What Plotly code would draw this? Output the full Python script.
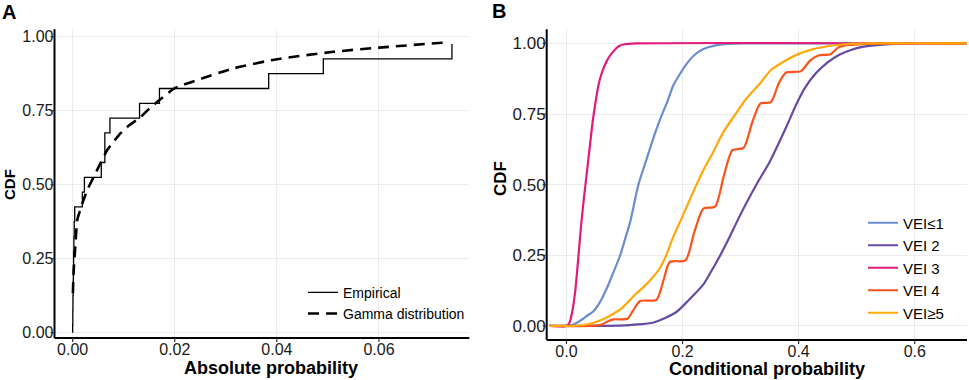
import plotly.graph_objects as go

W, H = 969, 380
FONT = "Liberation Sans, Arial, sans-serif"

# ---------------- Panel A data ----------------
emp_x = [0.0, 0.0, 0.00003, 0.00006, 0.0001, 0.00014, 0.00018, 0.00024, 0.0003, 0.0004,
         0.0019, 0.0023, 0.0056, 0.0063, 0.0063, 0.0073, 0.0131, 0.0170, 0.0384, 0.0491, 0.0743]
emp_y = [0.0, 0.025, 0.075, 0.125, 0.175, 0.225, 0.275, 0.325, 0.375, 0.425,
         0.475, 0.525, 0.575, 0.625, 0.675, 0.725, 0.775, 0.825, 0.875, 0.925, 0.975]

gam_x = [0.00004, 0.0002, 0.00043, 0.0009, 0.0014, 0.0019, 0.00286, 0.0035, 0.00448, 0.0055,
         0.00677, 0.008, 0.0094, 0.011, 0.013, 0.015, 0.017, 0.02, 0.025, 0.0315, 0.04, 0.0511,
         0.06, 0.0735]
gam_y = [0.133, 0.21, 0.268, 0.381, 0.41, 0.437, 0.482, 0.505, 0.5385, 0.575,
         0.617, 0.645, 0.674, 0.70, 0.724, 0.757, 0.786, 0.826, 0.857, 0.893, 0.924, 0.949,
         0.963, 0.981]

# ---------------- Panel B data ----------------
vei1_x = [-0.03, 0.0, 0.012, 0.025, 0.035, 0.047, 0.058, 0.07, 0.08, 0.0926, 0.10, 0.11, 0.124,
          0.134, 0.144, 0.154, 0.164, 0.175, 0.184, 0.195, 0.208, 0.22, 0.236, 0.255, 0.277, 0.31, 0.69]
vei1_y = [0.0, 0.0, 0.005, 0.02, 0.035, 0.053, 0.085, 0.135, 0.185, 0.25, 0.30, 0.37, 0.50,
          0.565, 0.628, 0.69, 0.745, 0.80, 0.851, 0.89, 0.93, 0.958, 0.98, 0.992, 0.998, 1.0, 1.0]

vei2_x = [-0.03, 0.05, 0.10, 0.13, 0.15, 0.17, 0.19, 0.21, 0.236, 0.25, 0.265, 0.28, 0.294, 0.31,
          0.33, 0.35, 0.363, 0.38, 0.395, 0.41, 0.43, 0.45, 0.47, 0.49, 0.51, 0.54, 0.575, 0.62, 0.69]
vei2_y = [0.0, 0.0, 0.002, 0.006, 0.012, 0.028, 0.05, 0.09, 0.147, 0.195, 0.25, 0.31, 0.37, 0.435,
          0.51, 0.58, 0.635, 0.71, 0.78, 0.84, 0.895, 0.933, 0.96, 0.977, 0.988, 0.995, 0.999, 1.0, 1.0]

vei3_x = [-0.03, 0.0, 0.005, 0.01, 0.015, 0.02, 0.025, 0.03, 0.035, 0.04, 0.045, 0.05, 0.055,
          0.06, 0.07, 0.08, 0.09, 0.10, 0.12, 0.69]
vei3_y = [0.0, 0.0, 0.01, 0.05, 0.12, 0.23, 0.35, 0.45, 0.54, 0.63, 0.72, 0.79, 0.85,
          0.89, 0.94, 0.97, 0.99, 0.997, 1.0, 1.0]

vei4_x = [-0.03, 0.04, 0.06, 0.07, 0.081, 0.105, 0.115, 0.127, 0.155, 0.167, 0.178, 0.205, 0.22,
          0.236, 0.256, 0.271, 0.286, 0.305, 0.32, 0.334, 0.352, 0.366, 0.378, 0.404, 0.42, 0.434,
          0.455, 0.468, 0.48, 0.51, 0.55, 0.69]
vei4_y = [0.0, 0.0, 0.004, 0.015, 0.023, 0.025, 0.055, 0.088, 0.092, 0.16, 0.226, 0.232, 0.33,
          0.415, 0.422, 0.53, 0.622, 0.63, 0.72, 0.787, 0.792, 0.86, 0.896, 0.902, 0.94, 0.957,
          0.962, 0.985, 0.993, 0.997, 1.0, 1.0]

vei5_x = [-0.03, 0.01, 0.03, 0.047, 0.065, 0.08, 0.093, 0.104, 0.118, 0.133, 0.147, 0.161, 0.172,
          0.184, 0.196, 0.21, 0.224, 0.238, 0.253, 0.27, 0.291, 0.31, 0.334, 0.352, 0.374, 0.40,
          0.425, 0.45, 0.48, 0.52, 0.69]
vei5_y = [0.0, 0.0, 0.003, 0.011, 0.025, 0.042, 0.058, 0.08, 0.11, 0.138, 0.168, 0.205, 0.25,
          0.315, 0.37, 0.435, 0.50, 0.56, 0.616, 0.685, 0.749, 0.805, 0.86, 0.905, 0.935, 0.963,
          0.98, 0.99, 0.997, 1.0, 1.0]

series_names = ["VEI≤1", "VEI 2", "VEI 3", "VEI 4", "VEI≥5"]
series_x = [vei1_x, vei2_x, vei3_x, vei4_x, vei5_x]
series_y = [vei1_y, vei2_y, vei3_y, vei4_y, vei5_y]
series_colors = ["#6A8DD0", "#674AA3", "#E31A7B", "#F8541C", "#FFA80A"]

y_ticks = [0, 0.25, 0.5, 0.75, 1.0]
xa_ticks = [0, 0.02, 0.04, 0.06]
xb_ticks = [0, 0.2, 0.4, 0.6]

fig = go.Figure()

fig.add_trace(go.Scatter(x=emp_x, y=emp_y, mode="lines", name="Empirical",
                         line=dict(color="black", width=1.3, shape="hv"),
                         xaxis="x", yaxis="y", legend="legend"))
fig.add_trace(go.Scatter(x=gam_x, y=gam_y, mode="lines", name="Gamma distribution",
                         line=dict(color="black", width=2.6, dash="11px,7px", shape="spline", smoothing=0.6),
                         xaxis="x", yaxis="y", legend="legend"))

for nm, xs, ys, c in zip(series_names, series_x, series_y, series_colors):
    fig.add_trace(go.Scatter(x=xs, y=ys, mode="lines", name=nm,
                             line=dict(color=c, width=2.2, shape="spline", smoothing=0.7),
                             xaxis="x2", yaxis="y2", legend="legend2"))

def px2fx(p):
    return p / W

def px2fy(p):
    return 1 - p / H

axis_common = dict(showline=False, ticks="", showgrid=True,
                   gridcolor="#EBEBEB", gridwidth=1.2, zeroline=False,
                   automargin=False)

A_X = (54.5, 469.3)
A_Y = (338, 29.3)
B_X = (546.7, 967)
B_Y = (340, 29.3)

fig.update_layout(
    width=W, height=H,
    margin=dict(l=0, r=0, t=0, b=0, pad=0, autoexpand=False),
    paper_bgcolor="white", plot_bgcolor="white",
    font=dict(family=FONT, color="black"),
    xaxis=dict(domain=[px2fx(A_X[0]), px2fx(A_X[1])], range=[-0.00356, 0.0777],
               tickvals=xa_ticks, tickformat=".2f", anchor="y",
               tickfont=dict(size=16, color="#1a1a1a"), **axis_common),
    yaxis=dict(domain=[px2fy(A_Y[0]), px2fy(A_Y[1])], range=[-0.018, 1.025],
               tickvals=y_ticks, tickformat=".2f", anchor="x",
               tickfont=dict(size=16, color="#1a1a1a"), **axis_common),
    xaxis2=dict(domain=[px2fx(B_X[0]), px2fx(B_X[1])], range=[-0.034, 0.69],
                tickvals=xb_ticks, tickformat=".1f", anchor="y2",
                tickfont=dict(size=16, color="#1a1a1a"), **axis_common),
    yaxis2=dict(domain=[px2fy(B_Y[0]), px2fy(B_Y[1])], range=[-0.05, 1.05],
                tickvals=y_ticks, tickformat=".2f", anchor="x2",
                tickfont=dict(size=17, color="#1a1a1a"), **axis_common),
    legend=dict(x=px2fx(303), y=px2fy(276.7), xanchor="left", yanchor="top",
                bgcolor="rgba(0,0,0,0)", font=dict(size=14, family=FONT)),
    legend2=dict(x=px2fx(863), y=px2fy(206.5), xanchor="left", yanchor="top",
                 bgcolor="rgba(0,0,0,0)", font=dict(size=15, family=FONT)),
    showlegend=True,
)

# axis lines and tick marks (left and bottom only)
for xr, yr, (x0p, x1p), (y0p, y1p), xt in [("x", "y", A_X, A_Y, xa_ticks), ("x2", "y2", B_X, B_Y, xb_ticks)]:
    wpx = x1p - x0p
    hpx = y0p - y1p
    fig.add_shape(type="line", xref=xr + " domain", yref=yr + " domain", x0=0, x1=1, y0=0, y1=0,
                  line=dict(color="black", width=2))
    fig.add_shape(type="line", xref=xr + " domain", yref=yr + " domain", x0=0, x1=0, y0=0, y1=1,
                  line=dict(color="black", width=2))
    for t in xt:
        fig.add_shape(type="line", xref=xr, yref=yr + " domain", x0=t, x1=t, y0=0, y1=-4 / hpx,
                      line=dict(color="#333333", width=1.2))
    for t in y_ticks:
        fig.add_shape(type="line", xref=xr + " domain", yref=yr, x0=0, x1=-4 / wpx, y0=t, y1=t,
                      line=dict(color="#333333", width=1.2))

annos = [
    dict(text="<b>A</b>", x=px2fx(9), y=px2fy(12), size=20),
    dict(text="<b>B</b>", x=px2fx(499), y=px2fy(11), size=20),
    dict(text="<b>Absolute probability</b>", x=px2fx(271), y=px2fy(368), size=18),
    dict(text="<b>Conditional probability</b>", x=px2fx(767), y=px2fy(369), size=18),
]
for a in annos:
    fig.add_annotation(text=a["text"], x=a["x"], y=a["y"], xref="paper", yref="paper",
                       xanchor="center", yanchor="middle", showarrow=False,
                       font=dict(size=a["size"], family=FONT, color="black"))
for txt, xx, yy, sz in [("<b>CDF</b>", 9, 185, 15), ("<b>CDF</b>", 500, 179, 17)]:
    fig.add_annotation(text=txt, x=px2fx(xx), y=px2fy(yy), xref="paper", yref="paper",
                       xanchor="center", yanchor="middle", showarrow=False, textangle=-90,
                       font=dict(size=sz, family=FONT, color="black"))

fig.write_html("out.html", config={"displayModeBar": False},
               post_script="document.body.style.margin='0px';")
